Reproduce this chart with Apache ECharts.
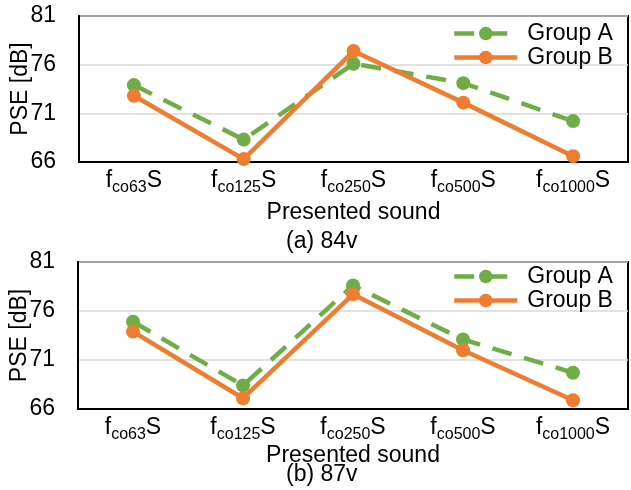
<!DOCTYPE html>
<html><head><meta charset="utf-8">
<script src="https://cdn.jsdelivr.net/npm/echarts@6/dist/echarts.min.js"></script>
<style>html,body{margin:0;padding:0;background:#fff}#c{width:631px;height:490px}</style>
</head><body><div id="c"></div>
<script>
const categories = ['fco63S', 'fco125S', 'fco250S', 'fco500S', 'fco1000S'];
const catSubs = ['co63', 'co125', 'co250', 'co500', 'co1000'];
const yTicks = [66, 71, 76, 81];
const panelCaptions = ['(a) 84v', '(b) 87v'];
const seriesNames = ['Group A', 'Group B'];
const a84_groupA = [73.9, 68.3, 76.1, 74.1, 70.2];
const a84_groupB = [72.8, 66.3, 77.4, 72.1, 66.6];
const b87_groupA = [74.9, 68.4, 78.6, 73.1, 69.7];
const b87_groupB = [73.9, 67.1, 77.7, 72.0, 66.9];

const FONT = 'Liberation Sans';
const FS = 23;
const GREEN = '#70AD47', ORANGE = '#ED7D31';

const grids = [
  {left: 79, right: 3, top: 16, height: 146},
  {left: 78, right: 3, top: 262, height: 147}
];
const nameGaps = [39, 34];

function xAxis(i) {
  return {
    type: 'category', gridIndex: i, data: categories,
    name: 'Presented sound', nameLocation: 'middle', nameGap: nameGaps[i],
    nameTextStyle: {fontFamily: FONT, fontSize: FS, color: '#000'},
    axisLine: {lineStyle: {color: '#000', width: 2}},
    axisTick: {show: false},
    axisLabel: {
      interval: 0,
      margin: 8,
      formatter: (v, idx) => '{m|f}{s|' + catSubs[idx] + '}{m|S}',
      rich: {
        m: {fontFamily: FONT, fontSize: FS, color: '#000', verticalAlign: 'bottom', lineHeight: 22},
        s: {fontFamily: FONT, fontSize: 16, color: '#000', verticalAlign: 'bottom', lineHeight: 16, padding: [0,0,-4,0]}
      }
    }
  };
}
function yAxis(i) {
  return {
    type: 'value', gridIndex: i, min: 66, max: 81,
    name: 'PSE [dB]', nameLocation: 'middle', nameGap: 47, nameRotate: 90, nameMoveOverlap: false,
    nameTextStyle: {fontFamily: FONT, fontSize: FS, color: '#000'},
    axisLine: {show: true, lineStyle: {color: '#000', width: 2}},
    axisTick: {show: false, customValues: yTicks},
    axisLabel: {customValues: yTicks, margin: 23, fontFamily: FONT, fontSize: FS, color: '#000'},
    splitLine: {show: true, lineStyle: {color: '#d9d9d9', width: 1.5}}
  };
}
function lineSeries(name, data, i, color, dashed) {
  return {
    type: 'line', name: name, xAxisIndex: i, yAxisIndex: i, data: data,
    symbol: 'circle', symbolSize: 14, color: color,
    lineStyle: {color: color, width: 4.5, type: dashed ? [20, 13] : 'solid', cap: 'butt'},
    itemStyle: {color: color},
    z: dashed ? 2 : 3
  };
}
function legend(i, top) {
  return {
    left: 452, top: top, orient: 'vertical', itemWidth: 63, itemHeight: 17, itemGap: 1, padding: 0,
    data: seriesNames.map(n => ({name: n})),
    lineStyle: {width: 4.5},
    textStyle: {fontFamily: FONT, fontSize: FS, color: '#000', lineHeight: 20, padding: [0,0,0,5]},
    selectedMode: false
  };
}

const chart = echarts.init(document.getElementById('c'), null, {renderer: 'canvas'});
chart.setOption({
  animation: false,
  backgroundColor: '#fff',
  grid: grids.map(g => Object.assign({show: true, borderColor: '#000', borderWidth: 2, backgroundColor: 'transparent', containLabel: false, outerBoundsMode: 'none'}, g)),
  xAxis: [xAxis(0), xAxis(1)],
  yAxis: [yAxis(0), yAxis(1)],
  legend: [legend(0, 22), legend(1, 265)],
  title: [
    {text: panelCaptions[0], left: 286, top: 230, textStyle: {fontFamily: FONT, fontSize: FS, fontWeight: 'normal', color: '#000'}, padding: 0},
    {text: panelCaptions[1], left: 286, top: 463, textStyle: {fontFamily: FONT, fontSize: FS, fontWeight: 'normal', color: '#000'}, padding: 0}
  ],
  series: [
    lineSeries(seriesNames[0], a84_groupA, 0, GREEN, true),
    lineSeries(seriesNames[1], a84_groupB, 0, ORANGE, false),
    lineSeries(seriesNames[0], b87_groupA, 1, GREEN, true),
    lineSeries(seriesNames[1], b87_groupB, 1, ORANGE, false)
  ]
});
</script></body></html>
